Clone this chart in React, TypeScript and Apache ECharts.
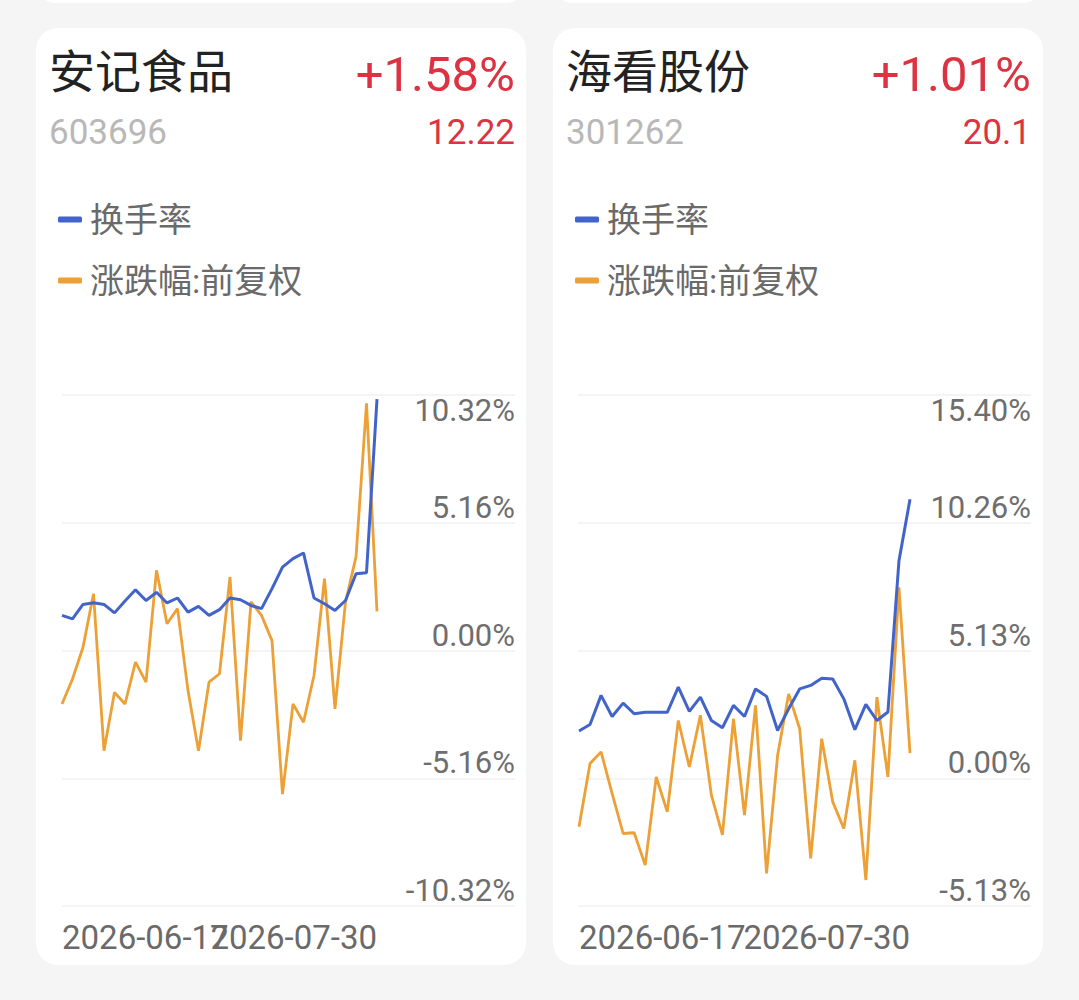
import React, { useEffect, useRef } from "react";
import * as echarts from "echarts";

const dates = [
  "2026-06-17", "2026-06-18", "2026-06-22", "2026-06-23", "2026-06-24", "2026-06-25",
  "2026-06-26", "2026-06-29", "2026-06-30", "2026-07-01", "2026-07-02", "2026-07-03",
  "2026-07-06", "2026-07-07", "2026-07-08", "2026-07-09", "2026-07-10", "2026-07-13",
  "2026-07-14", "2026-07-15", "2026-07-16", "2026-07-17", "2026-07-20", "2026-07-21",
  "2026-07-22", "2026-07-23", "2026-07-24", "2026-07-27", "2026-07-28", "2026-07-29",
  "2026-07-30",
];

const legendNames = ["换手率", "涨跌幅:前复权"];

// 安记食品
const turnoverA = [
  1.42, 1.28, 1.86, 1.93, 1.86, 1.52, 2.0, 2.45, 2.02, 2.35, 1.92, 2.12, 1.55, 1.78, 1.42, 1.65,
  2.12, 2.05, 1.82, 1.69, 2.5, 3.37, 3.71, 3.94, 2.12, 1.89, 1.62, 2.02, 3.1, 3.14, 10.15,
];
const changeA = [
  -2.16, -1.15, 0.13, 2.29, -4.05, -1.69, -2.16, -0.47, -1.28, 3.24, 1.08, 1.69, -1.62, -4.05,
  -1.28, -0.94, 2.97, -3.64, 1.96, 1.42, 0.4, -5.8, -2.16, -2.9, -1.01, 2.9, -2.36, 1.96, 3.78,
  9.98, 1.58,
];
const ticksA = ["-10.32%", "-5.16%", "0.00%", "5.16%", "10.32%"];

// 海看股份
const turnoverB = [
  1.9, 2.16, 3.33, 2.48, 3.02, 2.59, 2.65, 2.65, 2.65, 3.66, 2.69, 3.26, 2.32, 2.03, 2.93, 2.48,
  3.59, 3.29, 1.92, 2.79, 3.59, 3.73, 4.02, 3.99, 3.19, 1.95, 2.97, 2.32, 2.66, 8.74, 11.21,
];
const changeB = [
  -1.95, 0.59, 1.06, -0.61, -2.22, -2.19, -3.49, 0.05, -1.35, 2.32, 0.45, 2.53, -0.68, -2.28,
  2.39, -1.48, 2.93, -3.82, 0.92, 3.39, 1.99, -3.22, 1.59, -0.95, -2.02, 0.72, -4.09, 3.26, 0.05,
  7.67, 1.01,
];
const ticksB = ["-5.13%", "0.00%", "5.13%", "10.26%", "15.40%"];

const stocks = [
  { name: "安记食品", code: "603696", pct: "+1.58%", price: "12.22" },
  { name: "海看股份", code: "301262", pct: "+1.01%", price: "20.1" },
];

const BLUE = "#4263c9";
const ORANGE = "#eca035";
const RED = "#dc3242";
const FONT = "Roboto, 'Noto Sans CJK SC', sans-serif";

export default function App() {
  const ref = useRef<HTMLDivElement>(null);

  useEffect(() => {
    if (!ref.current) return;
    const chart = echarts.init(ref.current, undefined, { renderer: "svg" });

    const cards = [
      { x: 36, plotLeft: 62, plotRight: 515, dataLeft: 62, dataRight: 377 },
      { x: 553, plotLeft: 578, plotRight: 1031, dataLeft: 579, dataRight: 910 },
    ];
    const axes = [
      { min: -10.32, max: 10.32, interval: 5.16, labels: ticksA },
      { min: -15.4 / 3, max: 15.4, interval: 15.4 / 3, labels: ticksB },
    ];
    const seriesData = [
      [turnoverA, changeA],
      [turnoverB, changeB],
    ];

    const grids: any[] = [];
    const xAxes: any[] = [];
    const yAxes: any[] = [];
    const series: any[] = [];
    const legends: any[] = [];
    const graphics: any[] = [];

    const dateAxis = (gridIndex: number, which: "first" | "last") => ({
      gridIndex,
      type: "category",
      position: "bottom",
      offset: 0,
      data: dates,
      boundaryGap: false,
      axisLine: { show: false },
      axisTick: { show: false },
      splitLine: { show: false },
      axisLabel: {
        interval: (idx: number) => (which === "first" ? idx === 0 : idx === dates.length - 1),
        showMinLabel: which === "first",
        showMaxLabel: which === "last",
        align: which === "first" ? "left" : "right",
        fontSize: 33,
        fontFamily: FONT,
        color: "#6a6a6a",
        margin: 15,
      },
    });

    cards.forEach((c, i) => {
      const top = 395;
      const height = 511;
      const gA = grids.length;
      grids.push({ left: c.plotLeft, top, width: c.plotRight - c.plotLeft, height, outerBoundsMode: "none" });
      const gB = grids.length;
      grids.push({ left: c.dataLeft, top, width: c.dataRight - c.dataLeft, height, outerBoundsMode: "none" });
      const ax = axes[i];

      xAxes.push({ gridIndex: gA, type: "value", show: false, min: 0, max: 1 });
      const xData = xAxes.length;
      xAxes.push(dateAxis(gB, "first"));
      xAxes.push(dateAxis(gB, "last"));

      yAxes.push({
        gridIndex: gA,
        type: "value",
        position: "right",
        min: ax.min,
        max: ax.max,
        interval: ax.interval,
        axisLine: { show: false },
        axisTick: { show: false },
        splitLine: { show: true, lineStyle: { color: "#f0f0f0", width: 1.5 } },
        axisLabel: {
          inside: true,
          margin: 0,
          fontSize: 31,
          fontFamily: FONT,
          color: "#6e6e6e",
          showMinLabel: true,
          showMaxLabel: true,
          verticalAlign: "bottom",
          verticalAlignMaxLabel: "top",
          formatter: (v: number, idx: number) => {
            const k = Math.round((v - ax.min) / ax.interval);
            return ax.labels[k] ?? ax.labels[idx] ?? "";
          },
        },
      });
      const yData = yAxes.length;
      yAxes.push({ gridIndex: gB, type: "value", show: false, min: ax.min, max: ax.max, interval: ax.interval });

      series.push({
        name: legendNames[1],
        type: "line",
        xAxisIndex: xData,
        yAxisIndex: yData,
        data: seriesData[i][1],
        showSymbol: false,
        color: ORANGE,
        lineStyle: { width: 2.8, color: ORANGE },
        z: 2,
      });
      series.push({
        name: legendNames[0],
        type: "line",
        xAxisIndex: xData,
        yAxisIndex: yData,
        data: seriesData[i][0],
        showSymbol: false,
        color: BLUE,
        lineStyle: { width: 3, color: BLUE },
        z: 3,
      });

      legends.push({
        left: c.x + 17,
        top: 196,
        orient: "vertical",
        icon: "roundRect",
        itemWidth: 24,
        itemHeight: 6,
        itemGap: 24,
        data: legendNames,
        selectedMode: false,
        textStyle: { fontSize: 34, lineHeight: 37, fontFamily: FONT, color: "#6a6a6a", padding: [0, 0, 0, 3] },
      });

      const s = stocks[i];
      graphics.push(
        { type: "rect", z: -10, shape: { x: c.x, y: -40, width: 490, height: 43, r: 20 }, style: { fill: "#ffffff" } },
        { type: "rect", z: -10, shape: { x: c.x, y: 28, width: 490, height: 937, r: 22 }, style: { fill: "#ffffff" } },
        {
          type: "text", z: 10, x: c.x + 13, y: 72,
          style: { text: s.name, fill: "#222222", fontSize: 46, fontFamily: FONT, align: "left", verticalAlign: "middle" },
        },
        {
          type: "text", z: 10, x: c.plotRight, y: 74,
          style: { text: s.pct, fill: RED, fontSize: 49, fontFamily: FONT, align: "right", verticalAlign: "middle" },
        },
        {
          type: "text", z: 10, x: c.x + 13, y: 132,
          style: { text: s.code, fill: "#b8b8b8", fontSize: 35, fontFamily: FONT, align: "left", verticalAlign: "middle" },
        },
        {
          type: "text", z: 10, x: c.plotRight, y: 132,
          style: { text: s.price, fill: RED, fontSize: 35, fontFamily: FONT, align: "right", verticalAlign: "middle" },
        }
      );
    });

    chart.setOption({
      animation: false,
      backgroundColor: "#f5f5f5",
      grid: grids,
      xAxis: xAxes,
      yAxis: yAxes,
      legend: legends,
      series,
      graphic: { elements: graphics },
    });

    return () => chart.dispose();
  }, []);

  return (
    <div
      ref={ref}
      style={{ position: "fixed", left: 0, top: 0, width: 1079, height: 1000 }}
    />
  );
}
